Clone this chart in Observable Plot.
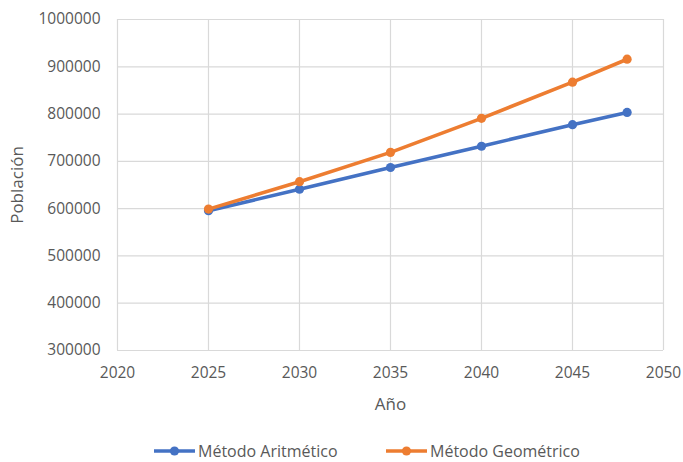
<!DOCTYPE html>
<html>
<head>
<meta charset="utf-8">
<script src="https://cdn.jsdelivr.net/npm/d3@7"></script>
<script src="https://cdn.jsdelivr.net/npm/@observablehq/plot@0.6"></script>
<style>
  body { margin: 0; background: #fff; font-family: "Open Sans", sans-serif; }
  #wrap { position: relative; width: 683px; height: 462px; }
  .leg { position: absolute; top: 440px; display: flex; align-items: center; font-size: 16px; color: #595959; white-space: nowrap; }
  .leg svg { margin-right: 2px; }
</style>
</head>
<body>
<div id="wrap"></div>
<script>
const years = [2025, 2030, 2035, 2040, 2045, 2048];
const aritmetico = [595500, 641000, 687000, 732000, 777500, 803500];
const geometrico = [599000, 657000, 719000, 791000, 867500, 916000];
const seriesNames = ["Método Aritmético", "Método Geométrico"];
const seriesColors = ["#4472C4", "#ED7D31"];
const xTicks = [2020, 2025, 2030, 2035, 2040, 2045, 2050];
const yTicks = [300000, 400000, 500000, 600000, 700000, 800000, 900000, 1000000];
const xLabel = "Año";
const yLabel = "Población";

const data = [];
[aritmetico, geometrico].forEach((vals, si) => {
  vals.forEach((v, i) => data.push({ year: years[i], value: v, series: seriesNames[si] }));
});

const chart = Plot.plot({
  width: 683,
  height: 425,
  marginLeft: 117,
  marginRight: 20,
  marginTop: 19,
  marginBottom: 75,
  style: { fontFamily: "Open Sans, sans-serif", fontSize: "15.5px", color: "#595959", background: "#fff" },
  x: { domain: [2020, 2050], ticks: xTicks, tickFormat: "d", label: null },
  y: { domain: [300000, 1000000], ticks: yTicks, tickFormat: "d", label: null },
  color: { domain: seriesNames, range: seriesColors },
  marks: [
    Plot.ruleX(xTicks, { stroke: "#d9d9d9", strokeWidth: 1.2 }),
    Plot.ruleY(yTicks, { stroke: "#d9d9d9", strokeWidth: 1.2 }),
    Plot.axisX({ ticks: xTicks, tickFormat: "d", tickSize: 0, tickPadding: 16, label: null, fill: "#595959", fontSize: 15.5 }),
    Plot.axisY({ ticks: yTicks, tickFormat: "d", tickSize: 0, tickPadding: 17, label: null, fill: "#595959", fontSize: 15.5 }),
    Plot.line(data, { x: "year", y: "value", stroke: "series", strokeWidth: 3.6, z: "series" }),
    Plot.dot(data, { x: "year", y: "value", fill: "series", r: 4.6 }),
    Plot.text([xLabel], { text: d => d, frameAnchor: "bottom", textAnchor: "middle", lineAnchor: "middle", dy: 54, fill: "#595959", fontSize: 17 }),
    Plot.text([yLabel], { text: d => d, frameAnchor: "left", textAnchor: "middle", lineAnchor: "middle", dx: -100, rotate: -90, fill: "#595959", fontSize: 17 })
  ]
});

const wrap = document.getElementById("wrap");
wrap.appendChild(chart);

const legLefts = [153, 385];
seriesNames.forEach((name, i) => {
  const item = document.createElement("div");
  item.className = "leg";
  item.style.left = legLefts[i] + "px";
  item.innerHTML = `<svg width="43" height="14"><line x1="1" y1="7" x2="42" y2="7" stroke="${seriesColors[i]}" stroke-width="3.6"/><circle cx="21.5" cy="7" r="4.6" fill="${seriesColors[i]}"/></svg><span>${name}</span>`;
  wrap.appendChild(item);
});
</script>
</body>
</html>
